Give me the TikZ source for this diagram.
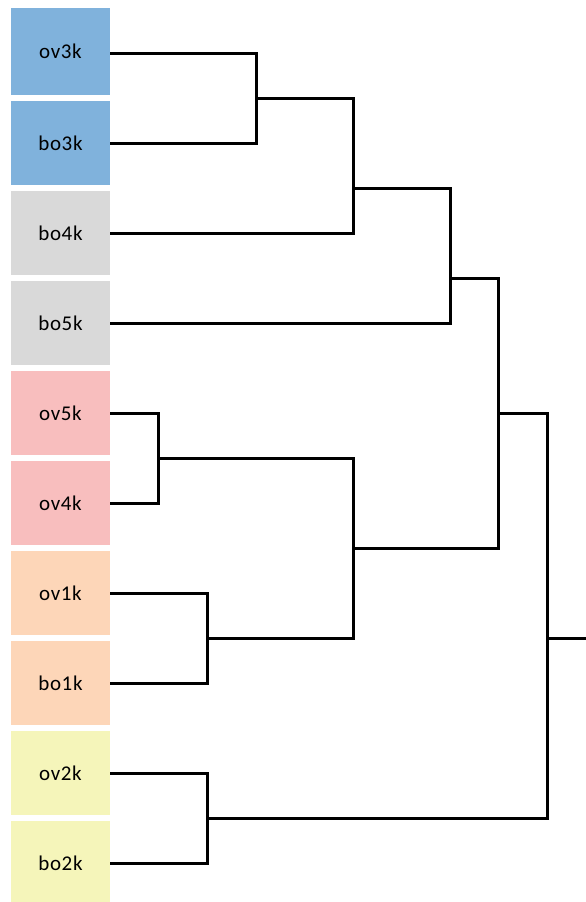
\documentclass[tikz,border=0pt]{standalone}
\usepackage{fontspec}
\setmainfont{Carlito}[LetterSpace=3]
\definecolor{cblue}{RGB}{128,178,220}
\definecolor{cgray}{RGB}{217,217,217}
\definecolor{cpink}{RGB}{248,190,190}
\definecolor{cpeach}{RGB}{253,214,184}
\definecolor{cyellow}{RGB}{245,245,186}
\begin{document}
\begin{tikzpicture}[x=1pt,y=-1pt,
  leaf/.style={rectangle, draw=none, minimum width=99pt, minimum height=84pt, inner sep=0pt, font=\fontsize{21}{25}\selectfont, text=black},
  link/.style={draw=black, line width=3pt}]
\useasboundingbox (0,0) rectangle (586,902);
\node[leaf, fill=cblue, minimum height=87pt] (l1)  at (60.5,51.5)  {ov3k};
\node[leaf, fill=cblue]   (l2)  at (60.5,143) {bo3k};
\node[leaf, fill=cgray]   (l3)  at (60.5,233) {bo4k};
\node[leaf, fill=cgray]   (l4)  at (60.5,323) {bo5k};
\node[leaf, fill=cpink]   (l5)  at (60.5,413) {ov5k};
\node[leaf, fill=cpink]   (l6)  at (60.5,503) {ov4k};
\node[leaf, fill=cpeach]  (l7)  at (60.5,593) {ov1k};
\node[leaf, fill=cpeach]  (l8)  at (60.5,683) {bo1k};
\node[leaf, fill=cyellow] (l9)  at (60.5,773) {ov2k};
\node[leaf, fill=cyellow] (l10) at (60.5,863) {bo2k};
\coordinate (m1) at (256,98);
\coordinate (m2) at (353,188);
\coordinate (m3) at (450,278);
\coordinate (m4) at (158,458);
\coordinate (m5) at (207,638);
\coordinate (m6) at (353,548);
\coordinate (m7) at (498,413);
\coordinate (m8) at (207,818);
\coordinate (m9) at (547,638);
\coordinate (root) at (586,638);
\draw[link] (l1.east |- 0,53) -| (m1) |- (l2.east);
\draw[link] (m1) -| (m2) |- (l3.east);
\draw[link] (m2) -| (m3) |- (l4.east);
\draw[link] (l5.east) -| (m4) |- (l6.east);
\draw[link] (l7.east) -| (m5) |- (l8.east);
\draw[link] (m4) -| (m6) |- (m5);
\draw[link] (m3) -| (m7) |- (m6);
\draw[link] (l9.east) -| (m8) |- (l10.east);
\draw[link] (m7) -| (m9) |- (m8);
\draw[link] (m9) -- (root);
\end{tikzpicture}
\end{document}
